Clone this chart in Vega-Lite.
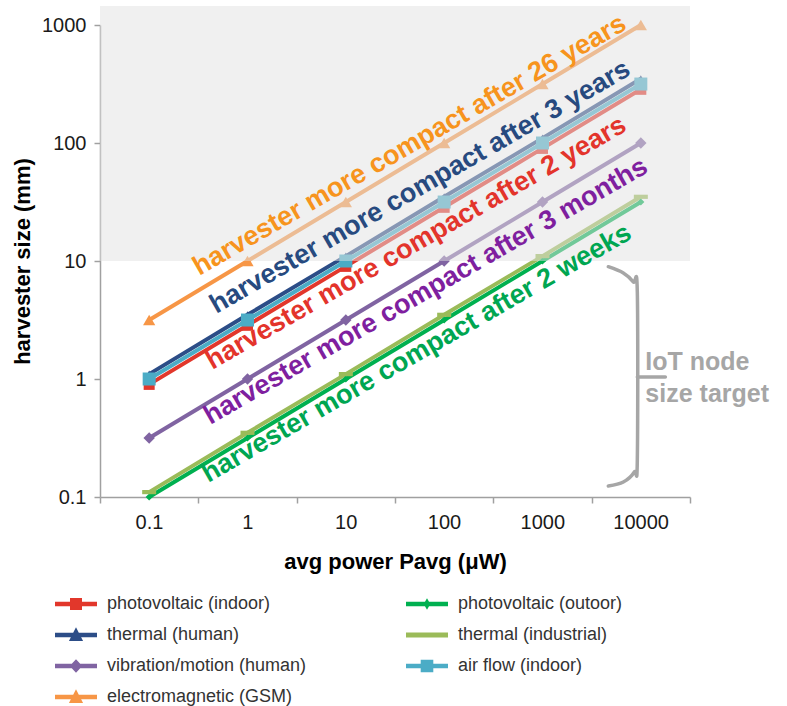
{
  "$schema": "https://vega.github.io/schema/vega-lite/v6.json",
  "width": 590,
  "height": 472,
  "autosize": {"type": "none"},
  "padding": {"left": 100, "top": 25, "right": 97, "bottom": 209},
  "background": "white",
  "config": {
    "view": {"stroke": null},
    "axis": {
      "domainColor": "#a0a0a0", "domainWidth": 1.5, "tickColor": "#a0a0a0", "tickWidth": 1.5, "tickSize": 6,
      "labelFont": "Liberation Sans", "labelFontSize": 20, "labelColor": "#1a1a1a",
      "titleFont": "Liberation Sans", "titleFontSize": 22, "titleFontWeight": "bold", "titleColor": "#000000",
      "grid": false
    }
  },
  "datasets": {
    "pts": [
      {"series": "photovoltaic (indoor)", "x": 0.1, "y": 0.9},
      {"series": "photovoltaic (indoor)", "x": 1, "y": 2.85},
      {"series": "photovoltaic (indoor)", "x": 10, "y": 9},
      {"series": "photovoltaic (indoor)", "x": 100, "y": 28.5},
      {"series": "photovoltaic (indoor)", "x": 1000, "y": 90},
      {"series": "photovoltaic (indoor)", "x": 10000, "y": 285},
      {"series": "photovoltaic (outoor)", "x": 0.1, "y": 0.1},
      {"series": "photovoltaic (outoor)", "x": 1, "y": 0.316},
      {"series": "photovoltaic (outoor)", "x": 10, "y": 1},
      {"series": "photovoltaic (outoor)", "x": 100, "y": 3.16},
      {"series": "photovoltaic (outoor)", "x": 1000, "y": 10},
      {"series": "photovoltaic (outoor)", "x": 10000, "y": 31.6},
      {"series": "thermal (human)", "x": 0.1, "y": 1.1},
      {"series": "thermal (human)", "x": 1, "y": 3.5},
      {"series": "thermal (human)", "x": 10, "y": 11},
      {"series": "thermal (human)", "x": 100, "y": 35},
      {"series": "thermal (human)", "x": 1000, "y": 110},
      {"series": "thermal (human)", "x": 10000, "y": 350},
      {"series": "thermal (industrial)", "x": 0.1, "y": 0.11},
      {"series": "thermal (industrial)", "x": 1, "y": 0.35},
      {"series": "thermal (industrial)", "x": 10, "y": 1.1},
      {"series": "thermal (industrial)", "x": 100, "y": 3.5},
      {"series": "thermal (industrial)", "x": 1000, "y": 11},
      {"series": "thermal (industrial)", "x": 10000, "y": 35},
      {"series": "vibration/motion (human)", "x": 0.1, "y": 0.316},
      {"series": "vibration/motion (human)", "x": 1, "y": 1},
      {"series": "vibration/motion (human)", "x": 10, "y": 3.16},
      {"series": "vibration/motion (human)", "x": 100, "y": 10},
      {"series": "vibration/motion (human)", "x": 1000, "y": 31.6},
      {"series": "vibration/motion (human)", "x": 10000, "y": 100},
      {"series": "air flow (indoor)", "x": 0.1, "y": 1},
      {"series": "air flow (indoor)", "x": 1, "y": 3.16},
      {"series": "air flow (indoor)", "x": 10, "y": 10},
      {"series": "air flow (indoor)", "x": 100, "y": 31.6},
      {"series": "air flow (indoor)", "x": 1000, "y": 100},
      {"series": "air flow (indoor)", "x": 10000, "y": 316},
      {"series": "electromagnetic (GSM)", "x": 0.1, "y": 3.16},
      {"series": "electromagnetic (GSM)", "x": 1, "y": 10},
      {"series": "electromagnetic (GSM)", "x": 10, "y": 31.6},
      {"series": "electromagnetic (GSM)", "x": 100, "y": 100},
      {"series": "electromagnetic (GSM)", "x": 1000, "y": 316},
      {"series": "electromagnetic (GSM)", "x": 10000, "y": 1000}
    ],
    "labels": [
      {"label": "harvester more compact after 26 years", "x": 0.3226, "y": 7.46},
      {"label": "harvester more compact after 3 years", "x": 0.48, "y": 3.55},
      {"label": "harvester more compact after 2 years", "x": 0.4375, "y": 1.192},
      {"label": "harvester more compact after 3 months", "x": 0.4173, "y": 0.4076},
      {"label": "harvester more compact after 2 weeks", "x": 0.398, "y": 0.1314}
    ],
    "brace": [
      {"part": "brace", "o": 1, "x": 4667, "y": 8.95},
      {"part": "brace", "o": 2, "x": 6637, "y": 7.91},
      {"part": "brace", "o": 3, "x": 8390, "y": 6.64},
      {"part": "brace", "o": 4, "x": 9209, "y": 5.46},
      {"part": "brace", "o": 5, "x": 9209, "y": 0.206},
      {"part": "brace", "o": 6, "x": 8590, "y": 0.163},
      {"part": "brace", "o": 7, "x": 6637, "y": 0.134},
      {"part": "brace", "o": 8, "x": 4667, "y": 0.124},
      {"part": "tick", "o": 1, "x": 9209, "y": 1.04},
      {"part": "tick", "o": 2, "x": 17750, "y": 1.04}
    ],
    "iot": [
      {"t": "IoT node", "x": 11120, "y": 1.192},
      {"t": "size target", "x": 11120, "y": 0.638}
    ],
    "band": [{"lo": 10, "hi": 1449}]
  },
  "layer": [
    {
      "data": {"name": "pts"},
      "mark": {"type": "line", "strokeWidth": 4},
      "encoding": {
        "x": {"field": "x", "type": "quantitative",
          "scale": {"type": "log", "domain": [0.0316227766, 31622.7766], "nice": false},
          "axis": {
            "values": [0.0316227766, 0.316227766, 3.16227766, 31.6227766, 316.227766, 3162.27766, 31622.7766],
            "labelExpr": "datum.value < 0.1 ? '0.1' : datum.value < 1 ? '1' : datum.value < 10 ? '10' : datum.value < 100 ? '100' : datum.value < 1000 ? '1000' : datum.value < 10000 ? '10000' : ''",
            "labelOffset": 49, "labelOverlap": false, "labelFlush": false, "labelPadding": 9,
            "title": "avg power Pavg (μW)", "titlePadding": 19
          }},
        "y": {"field": "y", "type": "quantitative",
          "scale": {"type": "log", "domain": [0.1, 1000], "nice": false},
          "axis": {"values": [0.1, 1, 10, 100, 1000], "format": "~g", "labelPadding": 8,
            "title": "harvester size (mm)", "titlePadding": 7}},
        "color": {"field": "series", "type": "nominal",
          "scale": {
            "domain": ["photovoltaic (indoor)", "thermal (human)", "vibration/motion (human)", "electromagnetic (GSM)", "photovoltaic (outoor)", "thermal (industrial)", "air flow (indoor)"],
            "range": ["#e2372b", "#2c4d87", "#8064a2", "#f79646", "#00b050", "#9bbb59", "#4bacc6"]
          },
          "legend": {
            "orient": "none", "legendX": -39, "legendY": 564, "columns": 2, "title": null,
            "labelFont": "Liberation Sans", "labelFontSize": 18, "labelColor": "#333333",
            "symbolSize": 900, "symbolStrokeWidth": 0, "symbolOpacity": 1, "labelOffset": 16,
            "rowPadding": 7, "columnPadding": 99, "padding": 0, "labelLimit": 400
          }}
      }
    },
    {
      "data": {"name": "pts"},
      "transform": [{"filter": "datum.series === 'photovoltaic (indoor)'"}],
      "mark": {"type": "point", "shape": "square", "filled": true, "size": 121, "opacity": 1},
      "encoding": {"x": {"field": "x", "type": "quantitative"}, "y": {"field": "y", "type": "quantitative"}, "color": {"field": "series", "type": "nominal"}}
    },
    {
      "data": {"name": "pts"},
      "transform": [{"filter": "datum.series === 'photovoltaic (outoor)'"}],
      "mark": {"type": "point", "shape": "diamond", "filled": true, "size": 50, "opacity": 1},
      "encoding": {"x": {"field": "x", "type": "quantitative"}, "y": {"field": "y", "type": "quantitative"}, "color": {"field": "series", "type": "nominal"}}
    },
    {
      "data": {"name": "pts"},
      "transform": [{"filter": "datum.series === 'thermal (industrial)'"}],
      "mark": {"type": "point", "shape": "M-1,-0.3H1V0.3H-1Z", "filled": true, "size": 196, "opacity": 1},
      "encoding": {"x": {"field": "x", "type": "quantitative"}, "y": {"field": "y", "type": "quantitative"}, "color": {"field": "series", "type": "nominal"}}
    },
    {
      "data": {"name": "pts"},
      "transform": [{"filter": "datum.series === 'thermal (human)'"}],
      "mark": {"type": "point", "shape": "triangle-up", "filled": true, "size": 70, "opacity": 1},
      "encoding": {"x": {"field": "x", "type": "quantitative"}, "y": {"field": "y", "type": "quantitative"}, "color": {"field": "series", "type": "nominal"}}
    },
    {
      "data": {"name": "pts"},
      "transform": [{"filter": "datum.series === 'vibration/motion (human)'"}],
      "mark": {"type": "point", "shape": "diamond", "filled": true, "size": 130, "opacity": 1},
      "encoding": {"x": {"field": "x", "type": "quantitative"}, "y": {"field": "y", "type": "quantitative"}, "color": {"field": "series", "type": "nominal"}}
    },
    {
      "data": {"name": "pts"},
      "transform": [{"filter": "datum.series === 'air flow (indoor)'"}],
      "mark": {"type": "point", "shape": "square", "filled": true, "size": 169, "opacity": 1},
      "encoding": {"x": {"field": "x", "type": "quantitative"}, "y": {"field": "y", "type": "quantitative"}, "color": {"field": "series", "type": "nominal"}}
    },
    {
      "data": {"name": "pts"},
      "transform": [{"filter": "datum.series === 'electromagnetic (GSM)'"}],
      "mark": {"type": "point", "shape": "triangle-up", "filled": true, "size": 150, "opacity": 1},
      "encoding": {"x": {"field": "x", "type": "quantitative"}, "y": {"field": "y", "type": "quantitative"}, "color": {"field": "series", "type": "nominal"}}
    },
    {
      "data": {"name": "pts"},
      "mark": {"type": "point", "filled": true, "opacity": 0},
      "encoding": {
        "x": {"field": "x", "type": "quantitative"},
        "y": {"field": "y", "type": "quantitative"},
        "color": {"field": "series", "type": "nominal"},
        "shape": {"field": "series", "type": "nominal",
          "scale": {
            "domain": ["photovoltaic (indoor)", "thermal (human)", "vibration/motion (human)", "electromagnetic (GSM)", "photovoltaic (outoor)", "thermal (industrial)", "air flow (indoor)"],
            "range": [
              "M-1.4,-0.15H1.4V0.15H-1.4Z M-0.4,-0.4H0.4V0.4H-0.4Z",
              "M-1.4,-0.15H1.4V0.15H-1.4Z M0,-0.52L0.47,0.4H-0.47Z",
              "M-1.4,-0.15H1.4V0.15H-1.4Z M0,-0.45L0.42,0L0,0.45L-0.42,0Z",
              "M-1.4,-0.15H1.4V0.15H-1.4Z M0,-0.52L0.47,0.4H-0.47Z",
              "M-1.4,-0.15H1.4V0.15H-1.4Z M0,-0.38L0.22,0L0,0.38L-0.22,0Z",
              "M-1.4,-0.17H1.4V0.17H-1.4Z",
              "M-1.4,-0.15H1.4V0.15H-1.4Z M-0.42,-0.42H0.42V0.42H-0.42Z"
            ]
          }}
      }
    },
    {
      "data": {"name": "band"},
      "mark": {"type": "rect", "fill": "#e1e1e1", "opacity": 0.5},
      "encoding": {
        "y": {"field": "lo", "type": "quantitative"},
        "y2": {"field": "hi"}
      }
    },
    {
      "data": {"name": "labels"},
      "mark": {"type": "text", "angle": -30, "align": "left", "baseline": "alphabetic", "font": "Liberation Sans", "fontSize": 27, "fontWeight": "bold"},
      "encoding": {
        "x": {"field": "x", "type": "quantitative"},
        "y": {"field": "y", "type": "quantitative"},
        "text": {"field": "label"},
        "fill": {"field": "label", "type": "nominal", "legend": null,
          "scale": {
            "domain": ["harvester more compact after 26 years", "harvester more compact after 3 years", "harvester more compact after 2 years", "harvester more compact after 3 months", "harvester more compact after 2 weeks"],
            "range": ["#f7941d", "#274a7f", "#e3342b", "#7f1f9f", "#00a651"]
          }}
      }
    },
    {
      "data": {"name": "brace"},
      "mark": {"type": "line", "color": "#a6a6a6", "strokeWidth": 3.5, "interpolate": "cardinal", "strokeCap": "round"},
      "encoding": {
        "x": {"field": "x", "type": "quantitative"},
        "y": {"field": "y", "type": "quantitative"},
        "detail": {"field": "part"},
        "order": {"field": "o", "type": "quantitative"}
      }
    },
    {
      "data": {"name": "iot"},
      "mark": {"type": "text", "align": "left", "baseline": "alphabetic", "font": "Liberation Sans", "fontSize": 25, "fontWeight": "bold", "color": "#a6a6a6"},
      "encoding": {
        "x": {"field": "x", "type": "quantitative"},
        "y": {"field": "y", "type": "quantitative"},
        "text": {"field": "t"}
      }
    }
  ]
}
